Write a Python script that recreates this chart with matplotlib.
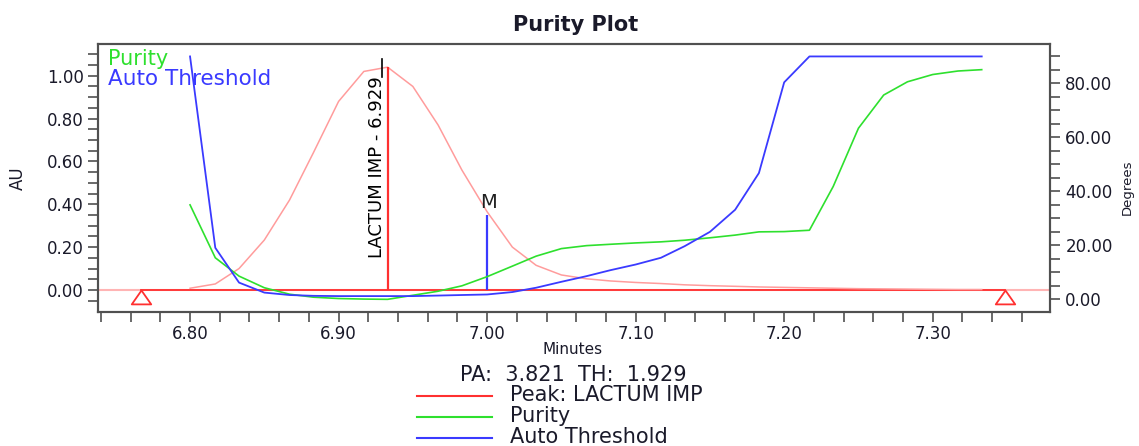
import numpy as np
import matplotlib
matplotlib.use("Agg")
import matplotlib.pyplot as plt
from matplotlib.ticker import MultipleLocator, FixedLocator, FormatStrFormatter
from matplotlib.lines import Line2D
from matplotlib.path import Path

# ---------------- data ----------------
times = [6.800, 6.817, 6.833, 6.850, 6.867, 6.883, 6.900, 6.917, 6.933, 6.950,
         6.967, 6.983, 7.000, 7.017, 7.033, 7.050, 7.067, 7.083, 7.100, 7.117,
         7.133, 7.150, 7.167, 7.183, 7.200, 7.217, 7.233, 7.250, 7.267, 7.283,
         7.300, 7.317, 7.333]

# chromatogram (AU)
peak_au = [0.008, 0.028, 0.10, 0.233, 0.42, 0.64, 0.88, 1.02, 1.04, 0.95,
           0.77, 0.56, 0.365, 0.20, 0.115, 0.07, 0.052, 0.042, 0.035, 0.030,
           0.024, 0.020, 0.017, 0.014, 0.012, 0.010, 0.008, 0.006, 0.005, 0.004,
           0.003, 0.002, 0.002]

# purity angle (degrees)
purity = [35.0, 15.4, 8.6, 4.3, 1.9, 0.8, 0.3, 0.1, 0.0, 1.5,
          3.0, 5.0, 8.4, 12.3, 16.0, 18.8, 19.9, 20.4, 20.9, 21.3,
          21.9, 22.8, 23.8, 25.0, 25.1, 25.6, 41.8, 63.4, 75.7, 80.6,
          83.3, 84.6, 85.1]

# auto threshold (degrees)
threshold = [90.0, 19.1, 6.2, 2.5, 1.6, 1.3, 1.2, 1.2, 1.2, 1.2,
             1.4, 1.6, 1.8, 2.7, 4.3, 6.5, 8.6, 10.8, 12.9, 15.4,
             19.7, 25.0, 33.2, 46.8, 80.4, 90.0, 90.0, 90.0, 90.0, 90.0,
             90.0, 90.0, 90.0]

peak_name = "LACTUM IMP"
label_time = 6.929
baseline_start = 6.767
baseline_end = 7.349
m_time = 7.00
m_height = 0.35
pa_value = 3.821
th_value = 1.929

RED = "#ff3030"
LIGHT_RED = "#ff9c9c"
GREEN = "#2ee02e"
BLUE = "#3a3aff"
FRAME = "#505050"
TXT = "#1a1a2a"

plt.rcParams["font.family"] = ["DejaVu Sans"]

fig = plt.figure(figsize=(11.39, 4.46), dpi=100)
ax = fig.add_axes([0.086, 0.3004, 0.8359, 0.6009])
ax2 = ax.twinx()

# ---------------- AU axis ----------------
ax.axhline(0, color="#ffb4b4", lw=1.5, zorder=1)
ax.plot([baseline_start, baseline_end], [0, 0], color=RED, lw=1.3, zorder=2)
ax.plot(times, peak_au, color=LIGHT_RED, lw=1.1, zorder=2)

# peak apex line and label
i_max = int(np.argmax(peak_au))
ax.vlines(times[i_max], 0, peak_au[i_max], color=RED, lw=1.6, zorder=3)
ax.text(times[i_max] - 0.0012, 0.15, f"{peak_name} - {label_time:.3f}",
        rotation=90, ha="right", va="bottom", fontsize=13, color="black")
ax.plot([label_time, label_time], [0.995, 1.08], color="black", lw=1.2)

# M marker
ax.vlines(m_time, 0, m_height, color=BLUE, lw=1.6, zorder=3)
ax.text(m_time + 0.001, m_height + 0.012, "M", ha="center", va="bottom",
        fontsize=14, color="#202020")

# baseline start / end triangles, apex sitting on the baseline
tri = Path([(0, 0), (-0.7, -1), (0.7, -1), (0, 0)],
           [Path.MOVETO, Path.LINETO, Path.LINETO, Path.CLOSEPOLY])
ax.plot([baseline_start, baseline_end], [0, 0], ls="none", marker=tri,
        ms=20, mfc="none", mec=RED, mew=1.3, zorder=4)

ax.set_xlim(6.738, 7.379)
ax.set_ylim(-0.103, 1.148)

# ---------------- degrees axis ----------------
ax2.plot(times, purity, color=GREEN, lw=1.2)
ax2.plot(times, threshold, color=BLUE, lw=1.3)
ax2.set_ylim(-4.7, 94.6)

# ---------------- ticks and frame ----------------
ax.xaxis.set_major_locator(MultipleLocator(0.1))
ax.xaxis.set_minor_locator(MultipleLocator(0.02))
ax.xaxis.set_major_formatter(FormatStrFormatter("%.2f"))
ax.yaxis.set_major_locator(MultipleLocator(0.2))
ax.yaxis.set_minor_locator(FixedLocator(np.arange(-0.05, 1.11, 0.05)))
ax.yaxis.set_major_formatter(FormatStrFormatter("%.2f"))
ax2.yaxis.set_major_locator(MultipleLocator(20))
ax2.yaxis.set_minor_locator(MultipleLocator(5))
ax2.yaxis.set_major_formatter(FormatStrFormatter("%.2f"))

for a in (ax, ax2):
    a.tick_params(which="both", direction="out", length=7, width=1.2,
                  color=FRAME, labelsize=12, labelcolor=TXT)
    for sp in a.spines.values():
        sp.set_color(FRAME)
        sp.set_linewidth(1.5)
ax.tick_params(axis="y", pad=3)
ax.tick_params(axis="x", pad=2)
ax2.tick_params(axis="y", pad=4)

# ---------------- texts ----------------
fig.text(0.505, 0.944, "Purity Plot", ha="center", va="center",
         fontsize=15, fontweight="bold", color=TXT)
fig.text(0.016, 0.60, "AU", rotation=90, ha="center", va="center",
         fontsize=12, color=TXT)
fig.text(0.9895, 0.58, "Degrees", rotation=90, ha="center", va="center",
         fontsize=9.5, color=TXT)
fig.text(0.503, 1 - 350 / 446, "Minutes", ha="center", va="center",
         fontsize=11, color=TXT)

fig.text(108 / 1139, 1 - 65 / 446, "Purity", ha="left", va="baseline",
         fontsize=15, color=GREEN)
fig.text(108 / 1139, 1 - 85 / 446, "Auto Threshold", ha="left", va="baseline",
         fontsize=15.5, color=BLUE)

fig.text(573 / 1139, 1 - 375 / 446, f"PA:  {pa_value:.3f}  TH:  {th_value:.3f}",
         ha="center", va="center", fontsize=15, color=TXT)

legend_items = [(f"Peak: {peak_name}", RED), ("Purity", GREEN), ("Auto Threshold", BLUE)]
for k, (name, col) in enumerate(legend_items):
    yy = 1 - (396 + 21 * k) / 446
    fig.add_artist(Line2D([417 / 1139, 492 / 1139], [yy, yy], color=col, lw=1.5))
    fig.text(510 / 1139, yy + 0.002, name, ha="left", va="center",
             fontsize=15, color=TXT)

fig.savefig("out.png", dpi=100)
